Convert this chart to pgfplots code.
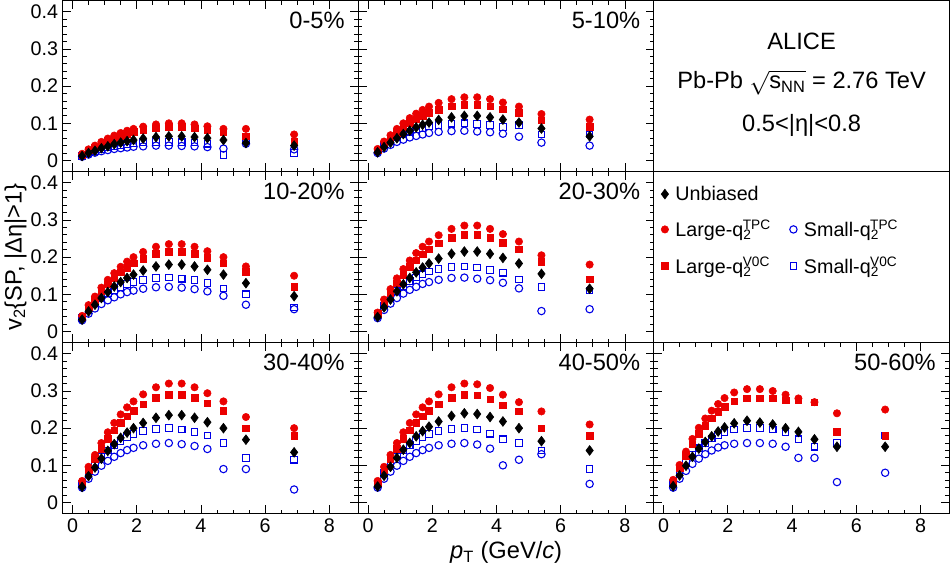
\documentclass[border=0pt]{standalone}
\usepackage{fontspec}
\setmainfont{Liberation Sans}
\setsansfont{Liberation Sans}
\usepackage{pgfplots}
\usepackage{pgfplotstable}
\pgfplotsset{compat=1.18}
\usepgfplotslibrary{groupplots}
\definecolor{rred}{RGB}{235,0,0}
\definecolor{rblue}{RGB}{0,0,230}
% columns: x U LT LV ST SV
\pgfplotstableread{
x U LT LV ST SV
0.3 .012 .018 .016 .010 .012
0.5 .020 .030 .027 .016 .020
0.7 .026 .040 .036 .021 .026
0.9 .033 .050 .045 .025 .031
1.1 .038 .059 .053 .028 .035
1.3 .044 .067 .060 .031 .038
1.5 .048 .074 .067 .033 .042
1.7 .052 .080 .072 .035 .044
1.9 .055 .085 .077 .037 .046
2.2 .059 .091 .082 .038 .048
2.6 .063 .097 .087 .040 .050
3.0 .065 .100 .090 .040 .050
3.4 .065 .100 .090 .039 .049
3.8 .063 .097 .087 .038 .048
4.2 .060 .092 .083 .036 .045
4.7 .055 .085 .077 .032 .015
5.4 .047 .085 .065 .045 .055
6.9 .040 .070 .050 .030 .020
}\tA
\pgfplotstableread{
x U LT LV ST SV
0.3 .022 .031 .027 .020 .025
0.5 .036 .051 .045 .032 .040
0.7 .048 .068 .060 .042 .052
0.9 .060 .085 .075 .050 .062
1.1 .071 .100 .089 .056 .070
1.3 .080 .114 .101 .062 .077
1.5 .089 .126 .111 .066 .083
1.7 .096 .136 .120 .070 .088
1.9 .102 .145 .128 .074 .092
2.2 .109 .155 .137 .077 .096
2.6 .116 .165 .146 .079 .099
3.0 .120 .170 .150 .080 .100
3.4 .120 .170 .150 .078 .098
3.8 .116 .165 .146 .076 .095
4.2 .110 .156 .138 .072 .090
4.7 .102 .145 .128 .064 .095
5.4 .086 .125 .108 .048 .070
6.9 .065 .110 .090 .040 .070
}\tB
\pgfplotstableread{
x U LT LV ST SV
0.3 .032 .042 .039 .030 .036
0.5 .054 .071 .065 .048 .058
0.7 .072 .094 .086 .062 .075
0.9 .090 .118 .108 .074 .090
1.1 .106 .139 .127 .084 .102
1.3 .121 .157 .144 .092 .112
1.5 .133 .174 .159 .100 .120
1.7 .144 .188 .172 .106 .128
1.9 .153 .200 .183 .110 .133
2.2 .164 .214 .196 .115 .139
2.6 .175 .228 .209 .119 .144
3.0 .180 .235 .215 .120 .145
3.4 .180 .235 .215 .118 .142
3.8 .175 .228 .209 .114 .138
4.2 .166 .216 .198 .108 .131
4.7 .153 .200 .183 .096 .116
5.4 .130 .175 .160 .072 .100
6.9 .095 .150 .120 .060 .065
}\tC
\pgfplotstableread{
x U LT LV ST SV
0.3 .039 .051 .047 .036 .044
0.5 .065 .086 .078 .058 .070
0.7 .086 .114 .104 .075 .091
0.9 .108 .143 .130 .090 .109
1.1 .127 .168 .153 .102 .123
1.3 .144 .191 .174 .112 .135
1.5 .159 .211 .192 .120 .145
1.7 .172 .228 .208 .128 .154
1.9 .183 .242 .221 .133 .161
2.2 .196 .259 .237 .139 .168
2.6 .209 .276 .252 .144 .173
3.0 .215 .285 .260 .145 .175
3.4 .215 .285 .260 .142 .172
3.8 .209 .276 .252 .138 .166
4.2 .198 .262 .239 .131 .158
4.7 .183 .242 .221 .116 .140
5.4 .155 .205 .187 .055 .120
6.9 .115 .180 .140 .060 .110
}\tD
\pgfplotstableread{
x U LT LV ST SV
0.3 .042 .058 .052 .040 .050
0.5 .071 .096 .087 .064 .080
0.7 .094 .128 .116 .083 .104
0.9 .118 .160 .145 .099 .124
1.1 .139 .189 .171 .112 .140
1.3 .157 .214 .194 .123 .154
1.5 .174 .237 .215 .133 .166
1.7 .188 .256 .232 .141 .176
1.9 .200 .272 .247 .147 .184
2.2 .214 .291 .264 .154 .192
2.6 .228 .310 .281 .158 .198
3.0 .235 .320 .290 .160 .200
3.4 .235 .320 .290 .157 .196
3.8 .228 .310 .281 .152 .190
4.2 .216 .294 .267 .144 .180
4.7 .200 .272 .247 .090 .160
5.4 .169 .230 .200 .090 .120
6.9 .135 .200 .180 .035 .115
}\tE
\pgfplotstableread{
x U LT LV ST SV
0.3 .043 .058 .052 .040 .050
0.5 .072 .096 .087 .064 .080
0.7 .096 .128 .116 .083 .104
0.9 .120 .160 .145 .099 .124
1.1 .142 .189 .171 .112 .140
1.3 .160 .214 .194 .123 .154
1.5 .178 .237 .215 .133 .166
1.7 .192 .256 .232 .141 .176
1.9 .204 .272 .247 .147 .184
2.2 .218 .291 .264 .154 .192
2.6 .233 .310 .281 .158 .198
3.0 .240 .320 .290 .160 .200
3.4 .238 .318 .288 .156 .196
3.8 .230 .308 .278 .145 .185
4.2 .218 .290 .262 .100 .170
4.7 .200 .270 .245 .115 .160
5.4 .165 .245 .200 .130 .140
6.9 .140 .210 .180 .050 .090
}\tF
\pgfplotstableread{
x U LT LV ST SV
0.3 .044 .061 .056 .040 .050
0.5 .073 .101 .092 .064 .080
0.7 .099 .137 .126 .085 .106
0.9 .123 .171 .157 .104 .128
1.1 .145 .201 .185 .118 .146
1.3 .163 .226 .207 .130 .160
1.5 .178 .247 .227 .140 .172
1.7 .191 .265 .244 .148 .182
1.9 .202 .281 .258 .154 .190
2.2 .213 .296 .272 .158 .196
2.6 .220 .305 .280 .160 .200
3.0 .215 .305 .280 .160 .200
3.4 .210 .300 .280 .158 .196
3.8 .200 .290 .275 .150 .190
4.2 .190 .280 .275 .120 .170
4.7 .170 .270 .270 .120 .150
5.4 .150 .240 .190 .055 .160
6.9 .150 .250 .180 .080 .180
}\tG
\pgfplotsset{
  sU/.style={only marks, black, mark=diamond*, mark size=3.6pt},
  sLT/.style={only marks, rred, mark=*, mark size=2.7pt},
  sLV/.style={only marks, rred, mark=square*, mark size=2.4pt},
  sST/.style={only marks, rblue, mark=o, mark size=2.7pt, thick},
  sSV/.style={only marks, rblue, mark=square, mark size=2.4pt, thick},
}
\newcommand{\panel}[2]{%
  \addplot[sSV] table[y=SV]{#1};
  \addplot[sST] table[y=ST]{#1};
  \addplot[sLV] table[y=LV]{#1};
  \addplot[sLT] table[y=LT]{#1};
  \addplot[sU] table[y=U]{#1};
  \node[anchor=north east, font=\LARGE] at (rel axis cs:0.97,0.96) {#2};
}
\newcommand{\qq}[1]{q\textsubscript{2}\kern-0.45em\textsuperscript{#1}}
\begin{document}
\begin{tikzpicture}
\begin{groupplot}[
  group style={group size=3 by 3, horizontal sep=0pt, vertical sep=0pt,
    xticklabels at=edge bottom, yticklabels at=edge left},
  width=216pt, height=125pt, scale only axis,
  xmin=-0.3, xmax=8.9, ymin=-0.03, ymax=0.43,
  xtick={0,2,4,6,8}, ytick={0,0.1,0.2,0.3,0.4},
  minor x tick num=3, minor y tick num=4,
  tick align=inside, major tick length=6pt, minor tick length=3pt,
  axis line style={line width=0.9pt}, every tick/.style={black, line width=0.6pt},
  ticklabel style={font=\Large}, /pgf/number format/assume math mode=true,
  yticklabel style={/pgf/number format/fixed},
  clip=false,
]
\nextgroupplot \panel{\tA}{0-5\%}
\nextgroupplot \panel{\tB}{5-10\%}
\nextgroupplot[xtick=\empty, ytick=\empty]
  \node[font=\LARGE] at (rel axis cs:0.5,0.76) {ALICE};
  \node[font=\LARGE] at (rel axis cs:0.5,0.52) {Pb-Pb $\sqrt{\hbox{s}_{\hbox{\large NN}}}$ = 2.76 TeV};
  \node[font=\LARGE] at (rel axis cs:0.5,0.27) {0.5<|η|<0.8};
\nextgroupplot[ylabel={v\textsubscript{2}\{SP, |Δη|>1\}}, ylabel style={font=\LARGE, yshift=-4pt}]
  \panel{\tC}{10-20\%}
\nextgroupplot \panel{\tD}{20-30\%}
\nextgroupplot[xtick=\empty, ytick=\empty,
  legend columns=2,
  legend style={draw=none, fill=none, font=\Large, at={(0.01,0.95)}, anchor=north west,
    row sep=9pt, /tikz/every even column/.append style={column sep=6pt}},
  legend cell align=left]
  \addlegendimage{sU}\addlegendentry{\hspace{3pt}Unbiased}
  \addlegendimage{empty legend}\addlegendentry{}
  \addlegendimage{sLT}\addlegendentry{\hspace{3pt}Large-\qq{TPC}}
  \addlegendimage{sST}\addlegendentry{\hspace{3pt}Small-\qq{TPC}}
  \addlegendimage{sLV}\addlegendentry{\hspace{3pt}Large-\qq{V0C}}
  \addlegendimage{sSV}\addlegendentry{\hspace{3pt}Small-\qq{V0C}}
\nextgroupplot \panel{\tE}{30-40\%}
\nextgroupplot[xlabel={\textit{p}\textsubscript{T} (GeV/\textit{c})}, xlabel style={font=\LARGE}]
  \panel{\tF}{40-50\%}
\nextgroupplot[xtick={0,2,4,6,8}, ytick={0,0.1,0.2,0.3,0.4}]
  \panel{\tG}{50-60\%}
\end{groupplot}
\end{tikzpicture}
\end{document}
